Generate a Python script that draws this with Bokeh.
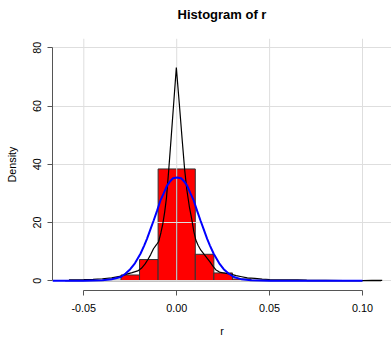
from bokeh.plotting import figure
from bokeh.models import Range1d, FixedTicker, Title
from bokeh.embed import file_html
from bokeh.resources import INLINE

# ---- data ----
bin_left = [-0.06, -0.05, -0.04, -0.03, -0.02, -0.01, 0.00, 0.01, 0.02, 0.03, 0.04, 0.05, 0.06, 0.07, 0.08, 0.09, 0.10]
bin_right = [-0.05, -0.04, -0.03, -0.02, -0.01, 0.00, 0.01, 0.02, 0.03, 0.04, 0.05, 0.06, 0.07, 0.08, 0.09, 0.10, 0.11]
hist_density = [0.06, 0.1, 0.2, 2.0, 7.3, 38.4, 38.4, 9.1, 2.7, 0.6, 0.15, 0.06, 0.06, 0.0, 0.0, 0.0, 0.08]

kde_x = [-0.058, -0.054, -0.05, -0.045, -0.04, -0.035, -0.03, -0.027, -0.024, -0.021, -0.019,
         -0.017, -0.0155, -0.014, -0.0125, -0.011, -0.0097, -0.0085, -0.0075, -0.0065, -0.0055,
         -0.0043, -0.003, -0.0015, -0.0002, 0.0015, 0.003, 0.0043, 0.0055, 0.0068, 0.008, 0.0092,
         0.0103, 0.0115, 0.013, 0.0155, 0.018, 0.0195, 0.021, 0.023, 0.026, 0.029, 0.032, 0.035,
         0.038, 0.042, 0.046, 0.05, 0.055, 0.06, 0.065, 0.07, 0.08, 0.09, 0.10, 0.105, 0.1106]
kde_y = [0.3, 0.35, 0.4, 0.5, 0.7, 1.0, 1.6, 2.3, 2.8, 3.4, 4.3,
         5.8, 7.3, 9.0, 11.0, 12.3, 13.5, 16.5, 19.5, 23.5, 28.5,
         38.0, 49.0, 62.0, 73.2, 60.0, 48.0, 38.0, 31.0, 25.5, 21.5, 17.0,
         14.0, 12.2, 10.5, 8.5, 6.4, 5.0, 3.8, 3.0, 2.6, 2.3, 1.8, 1.4,
         1.0, 0.8, 0.6, 0.45, 0.35, 0.3, 0.3, 0.2, 0.15, 0.1, 0.1, 0.15, 0.15]

norm_x = [-0.0669, -0.05, -0.04, -0.035, -0.03, -0.0275, -0.025, -0.0225, -0.0195, -0.0175, -0.016,
          -0.014, -0.0124, -0.0106, -0.0088, -0.007, -0.0052, -0.0035, -0.002, 0.0002, 0.0024,
          0.0039, 0.0056, 0.0074, 0.0092, 0.011, 0.0128, 0.0144, 0.0164, 0.0179, 0.0199, 0.0229,
          0.0253, 0.0279, 0.0307, 0.035, 0.04, 0.05, 0.10]
norm_y = [0.0, 0.02, 0.15, 0.5, 1.3, 2.5, 4.0, 6.0, 9.3, 12.1, 14.4,
          17.9, 20.7, 24.0, 27.5, 30.0, 32.7, 34.2, 35.2, 35.5, 35.2,
          34.2, 32.7, 30.0, 27.5, 24.0, 20.7, 17.9, 14.4, 12.1, 9.3, 6.0,
          4.0, 2.5, 1.3, 0.5, 0.15, 0.02, 0.0]

x_ticks = [-0.05, 0.0, 0.05, 0.10]
x_tick_labels = ["-0.05", "0.00", "0.05", "0.10"]
y_ticks = [0, 20, 40, 60, 80]
y_tick_labels = ["0", "20", "40", "60", "80"]

FONT = "Liberation Sans"
Y_TOP = 83.19
GRID_COLOR = "#dedede"

p = figure(width=391, height=339, output_backend="svg", toolbar_location=None,
           x_range=Range1d(-0.06685, 0.11561), y_range=Range1d(-3.33, Y_TOP),
           min_border_left=52, min_border_right=0, min_border_top=0, min_border_bottom=49)
p.outline_line_color = None
p.background_fill_color = "white"
p.border_fill_color = "white"

# title: a small spacer next to the frame, then the real title above it
p.add_layout(Title(text=" ", text_font_size="1px", standoff=6), "above")
p.add_layout(Title(text="Histogram of r", align="center", vertical_align="top", standoff=12,
                   text_font=FONT, text_font_size="13px", text_font_style="bold",
                   text_color="black"), "above")

# bars (below grid)
p.quad(left=bin_left, right=bin_right, bottom=0, top=hist_density,
       fill_color="#ff0000", line_color="#333333", line_width=1, level="image")

# vertical grid lines run from the zero line up to the top of the plot region
p.xgrid.visible = False
p.segment(x0=x_ticks, y0=[y_ticks[0]] * len(x_ticks), x1=x_ticks, y1=[Y_TOP] * len(x_ticks),
          line_color=GRID_COLOR, line_width=1, level="underlay")

p.line(kde_x, kde_y, line_color="black", line_width=1.2)
p.line(norm_x, norm_y, line_color="#0000ff", line_width=2)

# axes
for ax, ticks, labels, bounds in ((p.xaxis[0], x_ticks, x_tick_labels, (-0.05, 0.10)),
                                  (p.yaxis[0], y_ticks, y_tick_labels, (0, 80))):
    ax.ticker = FixedTicker(ticks=ticks)
    ax.major_label_overrides = {t: l for t, l in zip(ticks, labels)}
    ax.bounds = bounds
    ax.minor_tick_line_color = None
    ax.major_tick_in = 0
    ax.major_tick_out = 5
    ax.axis_line_color = "#555555"
    ax.major_tick_line_color = "#555555"
    ax.major_label_text_font = FONT
    ax.major_label_text_font_size = "10.8px"
    ax.major_label_text_color = "black"
    ax.axis_label_text_font = FONT
    ax.axis_label_text_font_size = "10.8px"
    ax.axis_label_text_font_style = "normal"
    ax.axis_label_text_color = "black"

p.xaxis.axis_label = "r"
p.xaxis.major_label_standoff = 8
p.xaxis.axis_label_standoff = 10
p.yaxis.axis_label = "Density"
p.yaxis.major_label_orientation = "vertical"
p.yaxis.major_label_standoff = 6
p.yaxis.axis_label_standoff = 13

p.ygrid.ticker = FixedTicker(ticks=y_ticks)
p.ygrid.grid_line_color = GRID_COLOR
p.ygrid.grid_line_width = 1

open("out.html", "w").write(file_html(p, INLINE))
